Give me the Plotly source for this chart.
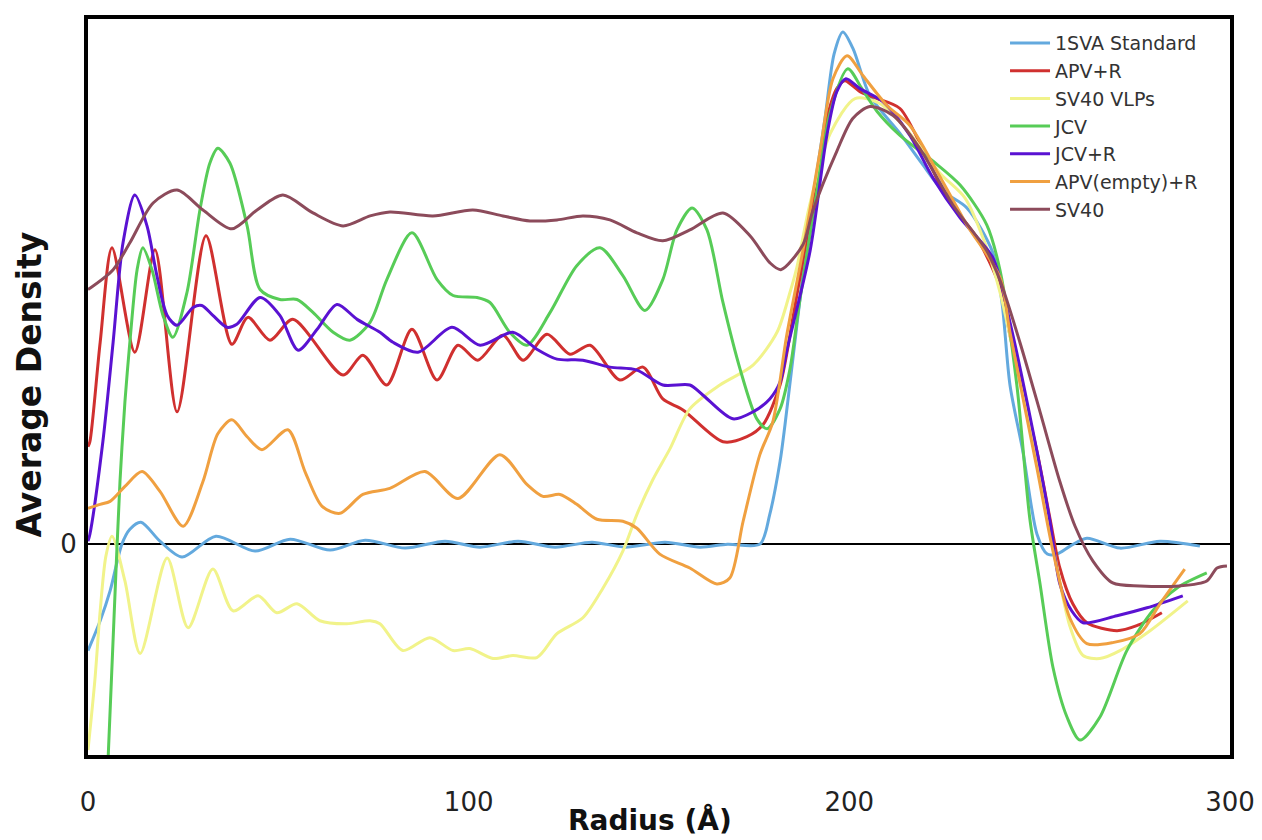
import plotly.graph_objects as go

# ---------------- data (radius in Å, average density in arbitrary units) ----------------
sva_r = [0, 3.2, 5.8, 8.9, 11.0, 13.9, 18.9, 24.7, 33.6, 43.9, 53.1, 63.6, 72.8, 83.3, 93.8,
         103.0, 113.0, 122.7, 132.4, 141.0, 151.6, 160.8, 168.0, 176.5, 179.1, 181.8, 183.1,
         186.0, 189.7, 193.6, 196.0, 198.3, 201.0, 205.4, 213.3, 219.0, 224.6, 230.9, 237.7,
         240.1, 242.2, 245.6, 249.3, 252.0, 254.5, 258.0, 262.4, 271.1, 281.6, 292.1]
sva_d = [-1.07, -0.77, -0.47, 0.0, 0.15, 0.22, 0.03, -0.13, 0.08, -0.07, 0.05, -0.06, 0.04, -0.04, 0.03,
         -0.03, 0.03, -0.03, 0.02, -0.03, 0.02, -0.03, 0.0, 0.0, 0.30, 0.83, 1.20,
         2.13, 3.28, 4.28, 4.93, 5.15, 4.98, 4.51, 4.13, 3.83, 3.55, 3.38, 2.93,
         2.43, 1.60, 0.93, 0.10, -0.10, -0.10, -0.02, 0.06, -0.04, 0.03, -0.02]

apvr_r = [0, 0.5, 3.2, 6.3, 12.3, 17.6, 23.4, 31.0, 37.8, 42.0, 47.8, 53.8, 67.0, 72.2, 78.5,
          85.1, 91.7, 97.2, 102.4, 109.0, 114.3, 120.6, 126.6, 131.9, 139.7, 145.8, 151.0, 156.3,
          166.8, 173.1, 177.3, 181.8, 185.2, 189.7, 194.1, 196.7, 198.8, 202.8, 207.3, 213.3,
          220.4, 225.6, 233.5, 239.6, 242.2, 249.3, 252.7, 255.3, 258.7, 262.4, 270.3, 275.5, 282.1]
apvr_d = [0.98, 1.03, 2.03, 2.98, 1.93, 2.96, 1.33, 3.10, 2.01, 2.28, 2.05, 2.26, 1.70, 1.90, 1.60,
          2.16, 1.65, 2.00, 1.85, 2.10, 1.85, 2.11, 1.91, 2.00, 1.65, 1.78, 1.46, 1.35,
          1.03, 1.08, 1.20, 1.60, 2.28, 3.28, 4.28, 4.58, 4.66, 4.55, 4.48, 4.38,
          3.88, 3.48, 3.08, 2.58, 2.10, 0.93, 0.26, -0.24, -0.60, -0.79, -0.87, -0.82, -0.69]

vlp_r = [0, 1.8, 3.2, 4.7, 6.3, 9.7, 13.7, 20.8, 26.3, 32.8, 38.1, 44.7, 49.6, 54.9, 60.9,
         68.0, 74.1, 76.7, 82.7, 89.8, 95.9, 100.3, 106.4, 111.6, 117.9, 123.2, 130.0, 135.3,
         140.5, 144.2, 148.4, 152.9, 158.1, 166.0, 174.7, 181.0, 184.4, 186.2, 189.7, 195.0,
         201.5, 208.0, 215.9, 223.8, 230.4, 235.6, 239.6, 244.8, 250.1, 254.0, 257.9, 261.4,
         265.8, 271.1, 279.0, 288.9]
vlp_d = [-2.07, -1.37, -0.67, -0.12, 0.08, -0.37, -1.10, -0.14, -0.84, -0.25, -0.67, -0.52, -0.69, -0.60, -0.77,
         -0.80, -0.77, -0.80, -1.07, -0.94, -1.07, -1.05, -1.15, -1.12, -1.14, -0.90, -0.74, -0.44,
         -0.07, 0.30, 0.65, 0.96, 1.36, 1.60, 1.80, 2.13, 2.53, 2.78, 3.43, 4.13,
         4.48, 4.43, 4.13, 3.73, 3.48, 3.03, 2.53, 1.63, 0.73, -0.12, -0.82, -1.12,
         -1.15, -1.07, -0.87, -0.57]

jcv_r = [5.3, 6.8, 8.4, 9.7, 11.0, 12.9, 14.4, 16.8, 19.7, 22.3, 26.0, 29.4, 32.0, 34.1, 37.3,
         41.8, 45.2, 50.4, 54.9, 59.1, 64.4, 68.8, 74.1, 78.5, 85.1, 91.7, 95.9, 102.2, 105.6,
         110.8, 115.3, 121.4, 128.4, 134.5, 140.5, 146.3, 151.0, 154.7, 158.7, 162.6, 166.8,
         171.3, 175.7, 178.4, 181.8, 184.4, 186.9, 191.0, 194.9, 199.6, 203.3, 207.3, 213.3,
         222.0, 229.1, 236.1, 239.6, 244.0, 247.4, 250.1, 253.5, 257.2, 260.6, 265.8, 272.9,
         279.7, 286.1, 293.9]
jcv_d = [-2.14, -0.77, 0.63, 1.43, 2.03, 2.76, 2.98, 2.76, 2.30, 2.08, 2.53, 3.36, 3.83, 3.98, 3.83,
         3.20, 2.56, 2.46, 2.46, 2.33, 2.13, 2.05, 2.23, 2.66, 3.13, 2.66, 2.50, 2.48, 2.43,
         2.13, 2.00, 2.33, 2.80, 2.98, 2.70, 2.35, 2.66, 3.16, 3.38, 3.16, 2.43,
         1.76, 1.26, 1.16, 1.36, 1.76, 2.43, 3.43, 4.33, 4.78, 4.58, 4.35, 4.11,
         3.85, 3.61, 3.21, 2.75, 1.60, 0.26, -0.40, -1.24, -1.74, -1.97, -1.74, -1.07,
         -0.67, -0.44, -0.29]

jcvr_r = [0, 0.5, 3.9, 6.6, 9.2, 12.3, 15.5, 18.1, 20.8, 23.4, 27.6, 29.9, 32.8, 36.5, 39.1,
          45.2, 50.4, 55.2, 60.2, 65.4, 70.7, 76.7, 80.1, 86.7, 95.6, 103.0, 111.6, 117.9, 123.2,
          130.0, 137.1, 144.2, 151.0, 158.1, 161.5, 169.4, 174.7, 179.1, 181.8, 183.6, 189.7,
          194.1, 196.7, 199.1, 202.8, 208.8, 215.9, 222.0, 229.1, 237.7, 242.2, 249.3, 252.7,
          255.3, 258.4, 261.4, 270.3, 278.2, 287.6]
jcvr_d = [0.03, 0.10, 1.03, 2.03, 3.03, 3.51, 3.20, 2.70, 2.30, 2.20, 2.38, 2.40, 2.30, 2.18, 2.21,
          2.48, 2.30, 1.95, 2.16, 2.41, 2.26, 2.13, 2.03, 1.93, 2.18, 2.00, 2.13, 1.96, 1.86,
          1.85, 1.78, 1.75, 1.60, 1.60, 1.50, 1.26, 1.33, 1.46, 1.63, 1.95, 2.95,
          4.11, 4.55, 4.68, 4.58, 4.45, 4.11, 3.68, 3.28, 2.88, 2.23, 0.93, 0.23,
          -0.40, -0.67, -0.79, -0.72, -0.64, -0.52]

apve_r = [0, 3.2, 5.8, 9.7, 14.2, 18.9, 25.0, 30.2, 34.1, 37.8, 41.8, 45.7, 52.5, 57.0, 61.5,
          66.2, 72.2, 79.3, 88.5, 97.2, 108.2, 115.3, 119.5, 124.0, 128.4, 133.7, 140.5, 144.2,
          150.2, 158.1, 165.2, 168.6, 172.1, 176.5, 179.9, 183.6, 187.8, 192.3, 195.7, 199.4,
          203.6, 209.9, 215.9, 223.0, 230.9, 239.6, 242.2, 249.3, 253.5, 257.9, 262.4, 269.2,
          276.3, 281.6, 288.1]
apve_d = [0.36, 0.40, 0.43, 0.58, 0.73, 0.53, 0.18, 0.63, 1.11, 1.25, 1.08, 0.95, 1.15, 0.73, 0.38,
          0.31, 0.50, 0.56, 0.73, 0.46, 0.90, 0.60, 0.48, 0.50, 0.40, 0.25, 0.23, 0.16,
          -0.10, -0.24, -0.40, -0.34, 0.23, 0.90, 1.23, 2.11, 2.95, 3.95, 4.68, 4.91,
          4.71, 4.41, 4.21, 3.75, 3.21, 2.68, 2.13, 0.76, -0.07, -0.74, -1.00, -0.99,
          -0.90, -0.60, -0.25]

sv40_r = [0, 6.6, 11.0, 17.1, 23.4, 30.2, 37.8, 44.4, 51.2, 59.1, 67.0, 74.1, 79.3, 90.6, 101.1,
          109.0, 116.1, 123.2, 130.0, 137.1, 144.2, 151.0, 158.1, 166.8, 173.9, 179.1, 182.0,
          187.8, 190.4, 196.7, 200.9, 205.4, 211.5, 218.5, 227.2, 236.1, 239.6, 244.8, 250.1,
          255.3, 259.3, 264.0, 269.2, 276.3, 286.8, 293.9, 296.6, 299.2]
sv40_d = [2.56, 2.76, 3.03, 3.43, 3.56, 3.36, 3.17, 3.36, 3.51, 3.33, 3.20, 3.30, 3.34, 3.30, 3.36,
          3.30, 3.25, 3.26, 3.30, 3.26, 3.13, 3.05, 3.16, 3.33, 3.10, 2.83, 2.76,
          3.01, 3.35, 3.95, 4.28, 4.40, 4.31, 3.98, 3.41, 2.95, 2.65, 2.03, 1.33,
          0.63, 0.18, -0.17, -0.39, -0.42, -0.42, -0.37, -0.24, -0.22]

series_names = ["1SVA Standard", "APV+R", "SV40 VLPs", "JCV", "JCV+R", "APV(empty)+R", "SV40"]
series_r = [sva_r, apvr_r, vlp_r, jcv_r, jcvr_r, apve_r, sv40_r]
series_d = [sva_d, apvr_d, vlp_d, jcv_d, jcvr_d, apve_d, sv40_d]
series_colors = ["#63a9de", "#d0302f", "#f1f38a", "#57cc57", "#5a12d2", "#f0a040", "#8c4b5b"]

x_ticks = [0, 100, 200, 300]
y_ticks = [0]

FONT = "DejaVu Sans"

fig = go.Figure()
for name, r, d, c in zip(series_names, series_r, series_d, series_colors):
    fig.add_trace(go.Scatter(x=r, y=d, name=name, mode="lines",
                             line=dict(color=c, width=3, shape="spline", smoothing=0.8)))

# the page body has an 8px margin, so the figure is sized to fit the 1262x840 window
fig.update_layout(
    width=1254, height=832,
    margin=dict(l=80, r=32, t=7, b=85),
    paper_bgcolor="white", plot_bgcolor="white",
    font=dict(family=FONT, color="#222222"),
    showlegend=True,
    legend=dict(x=0.803, y=0.993, xanchor="left", yanchor="top",
                bgcolor="rgba(255,255,255,0)", borderwidth=0,
                font=dict(family=FONT, size=19, color="#333333"),
                itemwidth=40, tracegroupgap=0),
    xaxis=dict(range=[0, 300], tickvals=x_ticks, ticktext=[str(v) for v in x_ticks],
               showgrid=False, zeroline=False, ticks="",
               showline=True, linecolor="black", linewidth=4, mirror=True,
               tickfont=dict(family=FONT, size=26, color="#222222"),
               ticklabelstandoff=21),
    yaxis=dict(range=[-2.12, 5.28], tickvals=y_ticks, ticktext=["0"],
               showgrid=False, zeroline=True, zerolinecolor="black", zerolinewidth=1.5,
               ticks="", showline=True, linecolor="black", linewidth=4, mirror=True,
               tickfont=dict(family=FONT, size=26, color="#222222"),
               ticklabelstandoff=2),
    annotations=[
        dict(text="<b>Average Density</b>", xref="paper", yref="paper",
             x=-0.051, y=0.503, xanchor="center", yanchor="middle", textangle=-90,
             showarrow=False, font=dict(family=FONT, size=33, color="#111111")),
        dict(text="<b>Radius (Å)</b>", xref="paper", yref="paper",
             x=0.492, y=-0.088, xanchor="center", yanchor="middle",
             showarrow=False, font=dict(family=FONT, size=28, color="#111111")),
    ],
)

fig.write_html("out.html")
